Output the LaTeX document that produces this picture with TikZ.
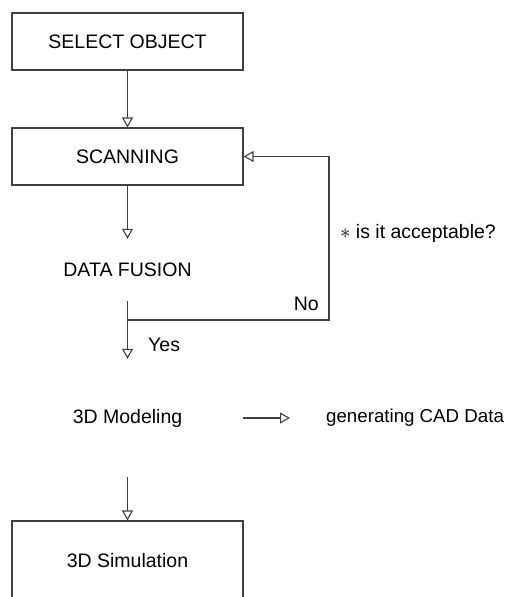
\documentclass[tikz,border=0pt]{standalone}
\usepackage{fontspec}
\setmainfont{Liberation Sans}
\usetikzlibrary{positioning,arrows.meta,calc}
\newcommand{\flowfont}{\fontsize{19.5}{22}\selectfont}
\tikzset{
  >={Triangle[open,length=10pt,width=11pt]},
  procbox/.style={draw=black!75,line width=1.1pt,minimum width=231pt,
    minimum height=57pt,inner sep=0pt,font=\flowfont},
  proctext/.style={minimum width=231pt,inner sep=0pt,font=\flowfont},
  flow/.style={->,draw=black!75,line width=1.1pt},
  flowlbl/.style={font=\flowfont,inner sep=0pt},
}

\begin{document}
\begin{tikzpicture}[x=1pt,y=-1pt]
  \clip (0,0) rectangle (505,597);
  \node[procbox] (select) at (127.5,41.5) {SELECT OBJECT};
  \node[procbox] (scan) at (127.5,156.5) {SCANNING};
  \node[proctext,minimum height=62pt] (fusion) at (127.5,270) {DATA FUSION};
  \node[proctext,minimum height=118pt] (model) at (127.5,418) {3D Modeling};
  \node[procbox,minimum height=80pt] (sim) at (127.5,561) {3D Simulation};
  \node[flowlbl,anchor=west,font=\fontsize{18.7}{22}\selectfont] (cad)
    at (326,418) {generating CAD Data};
  \node[flowlbl,anchor=west] (ask) at (340,233) {$\ast$ is it acceptable?};
  \node[flowlbl,anchor=west] (yes) at (148,345) {Yes};
  \coordinate (split) at (127.5,320);
  \coordinate (back) at (329,320);

  \draw[flow] (select) -- (scan);
  \draw[flow] (scan) -- (fusion);
  \draw[flow] (fusion) -- (model);
  \draw[flow] (split) -- (back) |- (scan.east);
  \node[flowlbl,anchor=south east] (no) at ([xshift=-10pt,yshift=9pt]back) {No};
  \draw[flow] (model.east) -- ([xshift=-36pt]cad.west);
  \draw[flow] (model) -- (sim);
\end{tikzpicture}
\end{document}
